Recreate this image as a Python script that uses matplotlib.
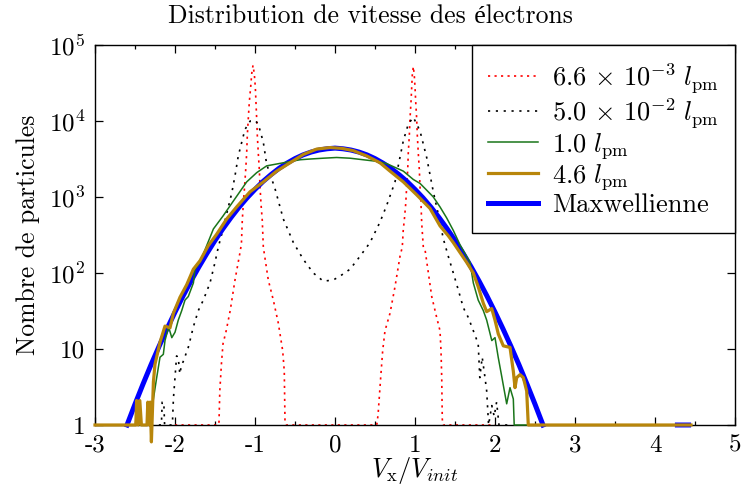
import numpy as np
import matplotlib
matplotlib.use("Agg")
import matplotlib.pyplot as plt

plt.rcParams['font.family'] = ['cmr10', 'Liberation Serif', 'DejaVu Serif']
plt.rcParams['mathtext.fontset'] = 'cm'
plt.rcParams['axes.unicode_minus'] = False
plt.rcParams['axes.formatter.use_mathtext'] = True

# ---------------- data ----------------
red_v = [-2.00, -1.46, -1.45, -1.44, -1.42, -1.40, -1.36, -1.31, -1.25, -1.19, -1.17, -1.159,
         -1.146, -1.13, -1.116, -1.104, -1.096, -1.084, -1.071, -1.054, -1.041, -1.025,
         -1.009, -0.996, -0.988, -0.979, -0.971, -0.959, -0.946, -0.9375, -0.925, -0.909,
         -0.896, -0.834, -0.771, -0.709, -0.654, -0.634, -0.625, -0.61,
         0.52, 0.529, 0.541, 0.571, 0.596, 0.625, 0.6875, 0.75, 0.8125, 0.841, 0.854, 0.866,
         0.884, 0.896, 0.909, 0.916, 0.929, 0.9375, 0.950, 0.959, 0.966, 0.979, 0.991, 1.0,
         1.009, 1.021, 1.029, 1.041, 1.054, 1.0625, 1.075, 1.084, 1.104, 1.125, 1.166, 1.209,
         1.271, 1.3125, 1.325, 1.334, 1.341, 1.35, 2.0]
red_n = [1, 1, 1.1, 2.8, 6.3, 11.7, 17.4, 32, 81, 180, 240, 490,
         813, 1380, 2290, 3800, 6460, 10700, 17800, 28000, 42000, 54000,
         42000, 28000, 17800, 10700, 6460, 3800, 2290, 1380, 813, 490,
         219, 81, 44, 22, 9.5, 5.1, 1.1, 1,
         1, 1.1, 1.5, 4.2, 9.5, 17.4, 29.5, 66, 166, 219, 380, 490,
         813, 1380, 2290, 3800, 6460, 10700, 17800, 28000, 40000, 52000, 40000, 28000,
         17800, 10700, 6460, 3800, 2290, 1380, 813, 450, 219, 204, 102, 49,
         26, 17.4, 9.5, 4.2, 1.2, 1, 1]

black_v = [-2.30, -2.17, -2.16, -2.14, -2.13, -2.04, -2.03, -2.02, -2.0, -1.98, -1.96, -1.94,
           -1.92, -1.896, -1.834, -1.8125, -1.771, -1.709, -1.646, -1.5625, -1.5, -1.459,
           -1.416, -1.354, -1.291, -1.25, -1.209, -1.166, -1.125, -1.06, -1.0, -0.959, -0.896,
           -0.854, -0.75, -0.646, -0.52, -0.396, -0.271, -0.146, -0.021, 0.0625, 0.1875,
           0.3125, 0.4375, 0.5625, 0.646, 0.75, 0.854, 0.916, 0.979, 1.0625, 1.146, 1.229,
           1.3125, 1.354, 1.416, 1.479, 1.541, 1.604, 1.666, 1.729, 1.79, 1.81, 1.84, 1.875,
           1.896, 1.92, 1.96, 1.99, 2.02, 2.05, 2.20]
black_n = [1, 1, 2.0, 2.0, 1, 1, 1.2, 2.2, 4.2, 8.1, 7.8, 4.7,
           6.0, 6.9, 10.5, 12.9, 19.5, 32, 44, 74, 138, 219,
           324, 603, 1120, 1900, 3470, 5250, 7760, 10000, 10200, 9100, 5250,
           2690, 1290, 513, 251, 151, 100, 78, 81, 91, 112,
           166, 251, 468, 776, 1580, 5500, 9100, 11200, 7400, 3310, 1170,
           468, 282, 166, 100, 60, 35, 26, 17.4, 11.7, 4.2, 7.8, 4.2,
           2.8, 1, 1.8, 1.3, 2.0, 1, 1]

green_v = [-2.9, -2.32, -2.29, -2.27, -2.229, -2.1875, -2.146, -2.125, -2.08, -2.04, -2.0,
           -1.959, -1.916, -1.875, -1.834, -1.77, -1.75, -1.6875, -1.604, -1.52, -1.4, -1.275,
           -1.104, -0.979, -0.854, -0.646, -0.4375, -0.3125, -0.146, 0.02, 0.1875, 0.354, 0.52,
           0.646, 0.77, 0.854, 0.979, 1.0625, 1.146, 1.229, 1.3125, 1.396, 1.479, 1.5625,
           1.6875, 1.729, 1.79, 1.854, 1.896, 1.96, 2.0, 2.04, 2.08, 2.146, 2.1875, 2.229,
           2.24, 2.9]
green_n = [1, 1, 1.5, 2.2, 4.2, 7.8, 8.5, 12.9, 19.5, 14.1, 16.6,
           24, 32, 44, 49, 74, 112, 138, 229, 380, 562, 871,
           1580, 2090, 2570, 2820, 3090, 3160, 3240, 3310, 3240, 3090, 2950,
           2750, 2400, 2190, 1700, 1510, 1230, 1000, 741, 530, 363, 235,
           138, 74, 44, 32, 24, 12.9, 14.1, 7.8, 4.6, 1.9, 3.1, 2.2,
           1, 1]

gold_v = [-3.0, -2.62, -2.49, -2.48, -2.46, -2.44, -2.42, -2.35, -2.34, -2.32, -2.31, -2.295,
          -2.27, -2.25, -2.1875, -2.125, -2.0625, -2.02, -1.9375, -1.854, -1.771, -1.6875,
          -1.584, -1.479, -1.354, -1.229, -1.0625, -0.896, -0.729, -0.5625, -0.396, -0.229,
          -0.0625, 0.084, 0.229, 0.396, 0.5625, 0.6875, 0.854, 1.02, 1.1875, 1.3125, 1.416,
          1.479, 1.5625, 1.646, 1.729, 1.79, 1.854, 1.896, 1.959, 2.0, 2.041, 2.104, 2.1875,
          2.229, 2.25, 2.271, 2.3125, 2.354, 2.396, 2.416, 4.45]
gold_n = [1, 1, 1, 2.1, 1, 2.1, 1, 1, 2.0, 1, 2.0, 0.6,
          3.7, 6.3, 12.3, 20, 19, 29.5, 48, 70, 112, 145,
          229, 324, 513, 741, 1170, 1580, 2190, 2820, 3630, 4270,
          4470, 4370, 4070, 3470, 2820, 2190, 1580, 1070, 708, 417, 309,
          251, 186, 138, 100, 66, 40, 31, 34, 24, 15.8, 11, 10.5,
          5.1, 3.1, 4.2, 4.6, 4.2, 2.8, 1, 1]

maxw_v = [-2.6, -2.5, -2.4, -2.3, -2.2, -2.1, -2.0, -1.9, -1.8, -1.7, -1.6, -1.5, -1.4,
          -1.3, -1.2, -1.1, -1.0, -0.9, -0.8, -0.7, -0.6, -0.5, -0.4, -0.3, -0.2, -0.1, 0.0,
          0.1, 0.2, 0.3, 0.4, 0.5, 0.6, 0.7, 0.8, 0.9, 1.0, 1.1, 1.2, 1.3, 1.4, 1.5, 1.6,
          1.7, 1.8, 1.9, 2.0, 2.1, 2.2, 2.3, 2.4, 2.5, 2.6, np.nan, 4.28, 4.42]
maxw_n = [1.0, 1.88, 3.45, 6.19, 10.8, 18.4, 30.6, 49.7, 78.5, 121, 182, 268, 384,
          537, 733, 974, 1260, 1600, 1970, 2380, 2790, 3200, 3580, 3900, 4150, 4310, 4400,
          4310, 4150, 3900, 3580, 3200, 2790, 2380, 1970, 1600, 1260, 974, 733, 537, 384, 268, 182,
          121, 78.5, 49.7, 30.6, 18.4, 10.8, 6.19, 3.45, 1.88, 1.0, np.nan, 1, 1]

labels = [r'$6.6\,\times\,10^{-3}\ l_{\mathrm{pm}}$', r'$5.0\,\times\,10^{-2}\ l_{\mathrm{pm}}$',
          r'$1.0\ l_{\mathrm{pm}}$', r'$4.6\ l_{\mathrm{pm}}$', 'Maxwellienne']
ytick_vals = [1, 10, 100, 1000, 10000, 100000]
ytick_labels = ['1', '10', r'$10^2$', r'$10^3$', r'$10^4$', r'$10^5$']
xtick_vals = [-3, -2, -1, 0, 1, 2, 3, 4, 5]

# ---------------- figure ----------------
fig = plt.figure(figsize=(7.41, 4.97), dpi=100)
ax = fig.add_axes([95/741, 1-425/497, 640/741, 380/497])

FS = 18
l_red, = ax.plot(red_v, red_n, color='#ff0000', lw=1.2, ls=(0, (1.3, 2.6)), clip_on=False, zorder=2)
l_blk, = ax.plot(black_v, black_n, color='black', lw=1.2, ls=(0, (1.3, 3.4)), clip_on=False, zorder=2)
l_max, = ax.plot(maxw_v, maxw_n, color='#0000ff', lw=3.6, clip_on=False, zorder=3,
                 solid_joinstyle='round')
l_grn, = ax.plot(green_v, green_n, color='#1a751a', lw=1.1, clip_on=False, zorder=4)
l_gld, = ax.plot(gold_v, gold_n, color='#b8860b', lw=2.3, clip_on=False, zorder=5)

ax.set_yscale('log')
ax.set_xlim(-3, 5)
ax.set_ylim(1, 1e5)
ax.set_yticks(ytick_vals)
ax.set_yticklabels(ytick_labels)
ax.yaxis.set_minor_locator(matplotlib.ticker.NullLocator())
ax.set_xticks(xtick_vals)
ax.set_xticklabels([str(v) for v in xtick_vals])
ax.xaxis.set_minor_locator(matplotlib.ticker.MultipleLocator(0.5))
ax.tick_params(which='both', direction='in', top=True, right=True, labelsize=FS, width=0.9)
ax.tick_params(which='major', length=6, pad=7)
ax.tick_params(which='minor', length=3)
for s in ax.spines.values():
    s.set_linewidth(1.0)

fig.text(0.5, 1 - 16/497, 'Distribution de vitesse des électrons', fontsize=18.5,
         ha='center', va='center')
ax.set_xlabel(r'$V_{\mathrm{x}}/V_{init}$', fontsize=19, labelpad=-1)
ax.set_ylabel('Nombre de particules', fontsize=18.5, labelpad=6)

leg = ax.legend([l_red, l_blk, l_grn, l_gld, l_max], labels, loc='upper right',
                fontsize=19, frameon=True, fancybox=False, framealpha=1,
                edgecolor='black', borderaxespad=0.0, handlelength=1.9,
                handletextpad=0.55, labelspacing=0.05, borderpad=0.6)
leg.get_frame().set_linewidth(1.0)

fig.savefig('out.png', dpi=100)
